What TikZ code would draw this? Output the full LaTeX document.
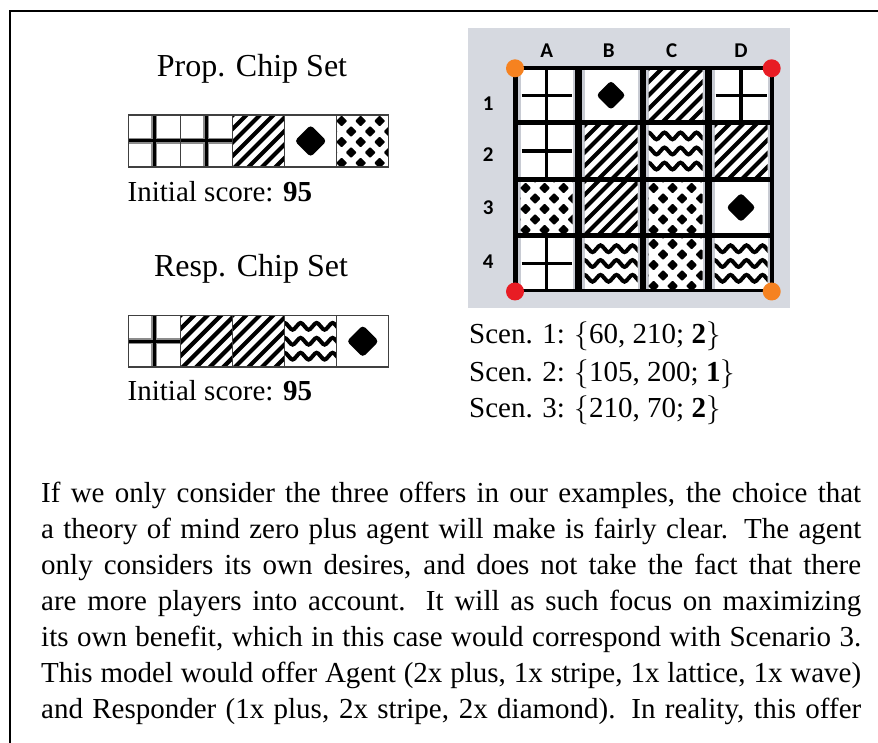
\documentclass[tikz,border=0pt]{standalone}
\usepackage{fontspec}
\setmainfont{Liberation Serif}
\newfontfamily\gridfont{Carlito}

\definecolor{boardgray}{RGB}{214,217,224}
\definecolor{cellshade}{RGB}{200,203,211}
\definecolor{dotorange}{RGB}{246,130,32}
\definecolor{dotred}{RGB}{232,28,36}

% math braces, set at 10pt and scaled up to the text size
\newcommand{\setopen}{\scalebox{2.9}{\fontsize{10}{12}\selectfont$\{$}}
\newcommand{\setclose}{\scalebox{2.9}{\fontsize{10}{12}\selectfont$\}$}}

% ---- chip patterns, each drawn inside the rectangle (#1,#2)-(#3,#4) ----
\newcommand{\patStripe}[4]{%
  \begin{scope}
    \clip (#1,#2) rectangle (#3,#4);
    \foreach \t in {-68,-54.5,...,68}{\draw[line width=4.2pt] ({#1+\t},{#4+3}) -- ++(75,-75);}
  \end{scope}}
\newcommand{\patWave}[4]{%
  \begin{scope}
    \clip (#1,#2) rectangle (#3,#4);
    \pgfmathsetmacro{\wh}{#4-#2}
    \foreach \f in {0.21,0.5,0.79}{
      \pgfmathsetmacro{\yc}{#2+\f*\wh}
      \draw[line width=4pt, rounded corners=2.5pt] ({#1-8},{\yc+4.5})
        \foreach \k in {1,...,11}{ -- ({#1-8+\k*8},{\yc+4.5*(1-2*mod(\k,2))}) };
    }
  \end{scope}}
\newcommand{\patLattice}[4]{%
  \begin{scope}
    \clip (#1,#2) rectangle (#3,#4);
    \foreach \r in {-1,...,5}{
      \foreach \c in {-1,...,3}{
        \pgfmathsetmacro{\lx}{#1+5+\c*19+mod(\r+2,2)*9.5}
        \pgfmathsetmacro{\ly}{#2+6+\r*10.5}
        \fill[rounded corners=0.8pt] ({\lx-5.5},\ly) -- (\lx,{\ly-5.5}) -- ({\lx+5.5},\ly) -- (\lx,{\ly+5.5}) -- cycle;
      }}
  \end{scope}}
% #1 = half diagonal of the diamond
\newcommand{\patDiamond}[5]{%
  \pgfmathsetmacro{\dcx}{(#2+#4)/2}\pgfmathsetmacro{\dcy}{(#3+#5)/2}
  \fill[rounded corners=3.5pt] ({\dcx-#1},\dcy) -- (\dcx,{\dcy-#1}) -- ({\dcx+#1},\dcy) -- (\dcx,{\dcy+#1}) -- cycle;}
\newcommand{\patPlusChip}[4]{%
  \pgfmathsetmacro{\pcx}{(#1+#3)/2}\pgfmathsetmacro{\pcy}{(#2+#4)/2}
  \draw[black!45, line width=6pt] (\pcx,#2) -- (\pcx,#4) (#1,\pcy) -- (#3,\pcy);
  \draw[line width=3pt] (\pcx,#2) -- (\pcx,#4) (#1,\pcy) -- (#3,\pcy);}
\newcommand{\patPlusBoard}[4]{%
  \pgfmathsetmacro{\pcx}{(#1+#3)/2}\pgfmathsetmacro{\pcy}{(#2+#4)/2}
  \draw[line width=3.2pt] (\pcx,#2) -- (\pcx,#4) ({#1+1},\pcy) -- ({#3-1},\pcy);}

% ---- cells ----
\newcommand{\chipcell}[5]{%
  \fill[white] (#1,#2) rectangle (#3,#4);
  #5{#1}{#2}{#3}{#4}
  \draw[black!75, line width=1.3pt] (#1,#2) rectangle (#3,#4);}
\newcommand{\boardcell}[5]{%
  \fill[white] (#1,#2) rectangle (#3,#4);
  \fill[cellshade] (#1,#2) rectangle ({#1+2.5},#4);
  \fill[cellshade] ({#3-2.5},#2) rectangle (#3,#4);
  \pgfmathsetmacro{\bxa}{#1+2.5}\pgfmathsetmacro{\bxb}{#3-2.5}%
  #5{\bxa}{#2}{\bxb}{#4}}

\begin{document}
\begin{tikzpicture}[x=1pt,y=-1pt,
  title/.style={inner sep=0pt, anchor=base, font=\fontsize{32}{38}\selectfont},
  score/.style={inner sep=0pt, anchor=base west, font=\fontsize{29}{35}\selectfont},
  body/.style={inner sep=0pt, anchor=base west, font=\fontsize{29}{36}\selectfont},
  gridlabel/.style={inner sep=0pt, font=\gridfont\bfseries\fontsize{21}{21}\selectfont},
  corner/.style={circle, inner sep=0pt, minimum size=18pt}]
\useasboundingbox (0,0) rectangle (878,743);
\fill[white] (0,0) rectangle (878,743);

% page frame
\draw[line width=2pt] (10,743) -- (10,11) -- (878,11);

% proposer chip set
\node[title] (proptitle) at (252,76.7) {Prop. Chip Set};
\chipcell{128.3}{115}{180.4}{167}{\patPlusChip}
\chipcell{180.4}{115}{232.5}{167}{\patPlusChip}
\chipcell{232.5}{115}{284.6}{167}{\patStripe}
\chipcell{284.6}{115}{336.7}{167}{\patDiamond{16}}
\chipcell{336.7}{115}{388.8}{167}{\patLattice}
\node[score] (propscore) at (127.5,201.5) {Initial score: \textbf{95}};

% responder chip set
\node[title] (resptitle) at (251,276.7) {Resp. Chip Set};
\chipcell{128.3}{315.5}{180.4}{367}{\patPlusChip}
\chipcell{180.4}{315.5}{232.5}{367}{\patStripe}
\chipcell{232.5}{315.5}{284.6}{367}{\patStripe}
\chipcell{284.6}{315.5}{336.7}{367}{\patWave}
\chipcell{336.7}{315.5}{388.8}{367}{\patDiamond{16}}
\node[score] (respscore) at (127.5,400) {Initial score: \textbf{95}};

% game board
\fill[boardgray] (468,28) rectangle (790,308);
\fill[black] (513,66.5) rectangle (774,292.5);
% row 1
\boardcell{518}{70.5}{575}{120}{\patPlusBoard}
\boardcell{582}{70.5}{640}{120}{\patDiamond{14.7}}
\boardcell{646}{70.5}{705}{120}{\patStripe}
\boardcell{712}{70.5}{770}{120}{\patPlusBoard}
% row 2
\boardcell{518}{125}{575}{177}{\patPlusBoard}
\boardcell{582}{125}{640}{177}{\patStripe}
\boardcell{646}{125}{705}{177}{\patWave}
\boardcell{712}{125}{770}{177}{\patStripe}
% row 3
\boardcell{518}{182}{575}{233}{\patLattice}
\boardcell{582}{182}{640}{233}{\patStripe}
\boardcell{646}{182}{705}{233}{\patLattice}
\boardcell{712}{182}{770}{233}{\patDiamond{14.7}}
% row 4
\boardcell{518}{238}{575}{289}{\patPlusBoard}
\boardcell{582}{238}{640}{289}{\patWave}
\boardcell{646}{238}{705}{289}{\patLattice}
\boardcell{712}{238}{770}{289}{\patWave}

% corner markers
\node[corner, fill=dotorange] (cornerTL) at (515,68.3) {};
\node[corner, fill=dotred] (cornerTR) at (771.7,68.3) {};
\node[corner, fill=dotred] (cornerBL) at (515,291.5) {};
\node[corner, fill=dotorange] (cornerBR) at (771.7,291.5) {};

% column and row labels
\node[gridlabel] (colA) at (546.7,50.3) {A};
\node[gridlabel] (colB) at (608.7,50.3) {B};
\node[gridlabel] (colC) at (671.7,50.3) {C};
\node[gridlabel] (colD) at (741,50.3) {D};
\node[gridlabel] (row1) at (488.3,103.7) {1};
\node[gridlabel] (row2) at (488.3,155) {2};
\node[gridlabel] (row3) at (488.3,208) {3};
\node[gridlabel] (row4) at (488.3,261.3) {4};

% scenarios
\node[score] (scen1) at (469,343) {Scen. 1: \setopen60, 210; \textbf{2}\setclose};
\node[score] (scen2) at (469,381) {Scen. 2: \setopen105, 200; \textbf{1}\setclose};
\node[score] (scen3) at (469,417) {Scen. 3: \setopen210, 70; \textbf{2}\setclose};

% paragraph, one justified line per node
\node[body] (line1) at (41,502) {\makebox[820pt][s]{If we only consider the three offers in our examples, the choice that}};
\node[body] (line2) at (41,538) {\makebox[820pt][s]{a theory of mind zero plus agent will make is fairly clear. The agent}};
\node[body] (line3) at (41,574) {\makebox[820pt][s]{only considers its own desires, and does not take the fact that there}};
\node[body] (line4) at (41,610) {\makebox[820pt][s]{are more players into account. It will as such focus on maximizing}};
\node[body] (line5) at (41,646) {\makebox[820pt][s]{its own benefit, which in this case would correspond with Scenario 3.}};
\node[body] (line6) at (41,682) {\makebox[820pt][s]{This model would offer Agent (2x plus, 1x stripe, 1x lattice, 1x wave)}};
\node[body] (line7) at (41,718) {\makebox[820pt][s]{and Responder (1x plus, 2x stripe, 2x diamond). In reality, this offer}};
\end{tikzpicture}
\end{document}
